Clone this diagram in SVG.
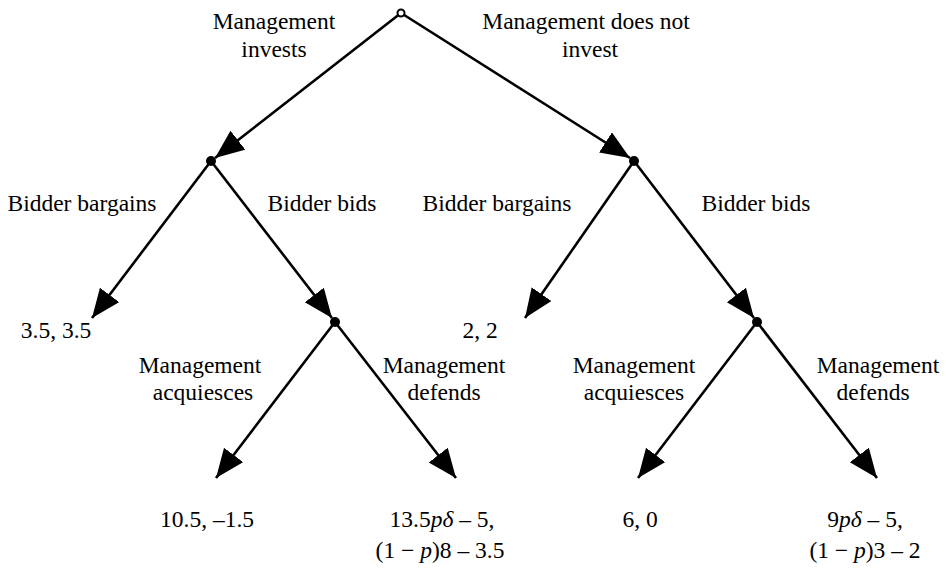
<svg xmlns="http://www.w3.org/2000/svg" width="946" height="572" viewBox="0 0 946 572">
<style>
text{font-family:"Liberation Serif","Times New Roman",serif;font-size:23.5px;fill:#000;text-anchor:middle}
.i{font-style:italic}
.e{stroke:#000;stroke-width:2.6;fill:none}
.d{fill:#000}
</style>
<defs>
<marker id="ah" markerUnits="userSpaceOnUse" markerWidth="32" markerHeight="26" refX="29" refY="12" orient="auto">
<path d="M0,0 L29,12 L0,24 Z" fill="#000"/>
</marker>
</defs>
<g id="connectors">
<line class="e" x1="401" y1="13" x2="215" y2="158" marker-end="url(#ah)"/>
<line class="e" x1="401" y1="13" x2="630" y2="158" marker-end="url(#ah)"/>
<line class="e" x1="211" y1="161" x2="92" y2="318" marker-end="url(#ah)"/>
<line class="e" x1="211" y1="161" x2="332" y2="318" marker-end="url(#ah)"/>
<line class="e" x1="634" y1="161" x2="525" y2="318" marker-end="url(#ah)"/>
<line class="e" x1="634" y1="161" x2="754" y2="318" marker-end="url(#ah)"/>
<line class="e" x1="335" y1="322" x2="216" y2="478" marker-end="url(#ah)"/>
<line class="e" x1="335" y1="322" x2="456" y2="478" marker-end="url(#ah)"/>
<line class="e" x1="757" y1="322" x2="638" y2="478" marker-end="url(#ah)"/>
<line class="e" x1="757" y1="322" x2="877" y2="478" marker-end="url(#ah)"/>
</g>
<g id="root"><circle cx="401" cy="13" r="3.5" fill="#fff" stroke="#000" stroke-width="2"/></g>
<g id="n-invest"><circle class="d" cx="211" cy="161" r="5"/></g>
<g id="n-noinvest"><circle class="d" cx="634" cy="161" r="5"/></g>
<g id="n-bid1"><circle class="d" cx="335" cy="322" r="5"/></g>
<g id="n-bid2"><circle class="d" cx="757" cy="322" r="5"/></g>
<g id="labels">
<text x="274" y="29">Management</text>
<text x="274" y="57">invests</text>
<text x="586" y="29">Management does not</text>
<text x="590" y="57">invest</text>
<text x="82" y="211">Bidder bargains</text>
<text x="322" y="211">Bidder bids</text>
<text x="497" y="211">Bidder bargains</text>
<text x="756" y="211">Bidder bids</text>
<text x="200" y="373">Management</text>
<text x="203" y="400">acquiesces</text>
<text x="444" y="373">Management</text>
<text x="444" y="400">defends</text>
<text x="634" y="373">Management</text>
<text x="634" y="400">acquiesces</text>
<text x="878" y="373">Management</text>
<text x="873" y="400">defends</text>
</g>
<g id="leaf-1"><text x="56" y="338">3.5, 3.5</text></g>
<g id="leaf-2"><text x="480" y="338">2, 2</text></g>
<g id="leaf-3"><text x="207" y="527">10.5, –1.5</text></g>
<g id="leaf-4"><text x="442" y="527">13.5<tspan class="i">pδ</tspan> – 5,</text><text x="440" y="558">(1 − <tspan class="i">p</tspan>)8 – 3.5</text></g>
<g id="leaf-5"><text x="640" y="527">6, 0</text></g>
<g id="leaf-6"><text x="865" y="527">9<tspan class="i">pδ</tspan> – 5,</text><text x="865" y="558">(1 − <tspan class="i">p</tspan>)3 – 2</text></g>
</svg>
